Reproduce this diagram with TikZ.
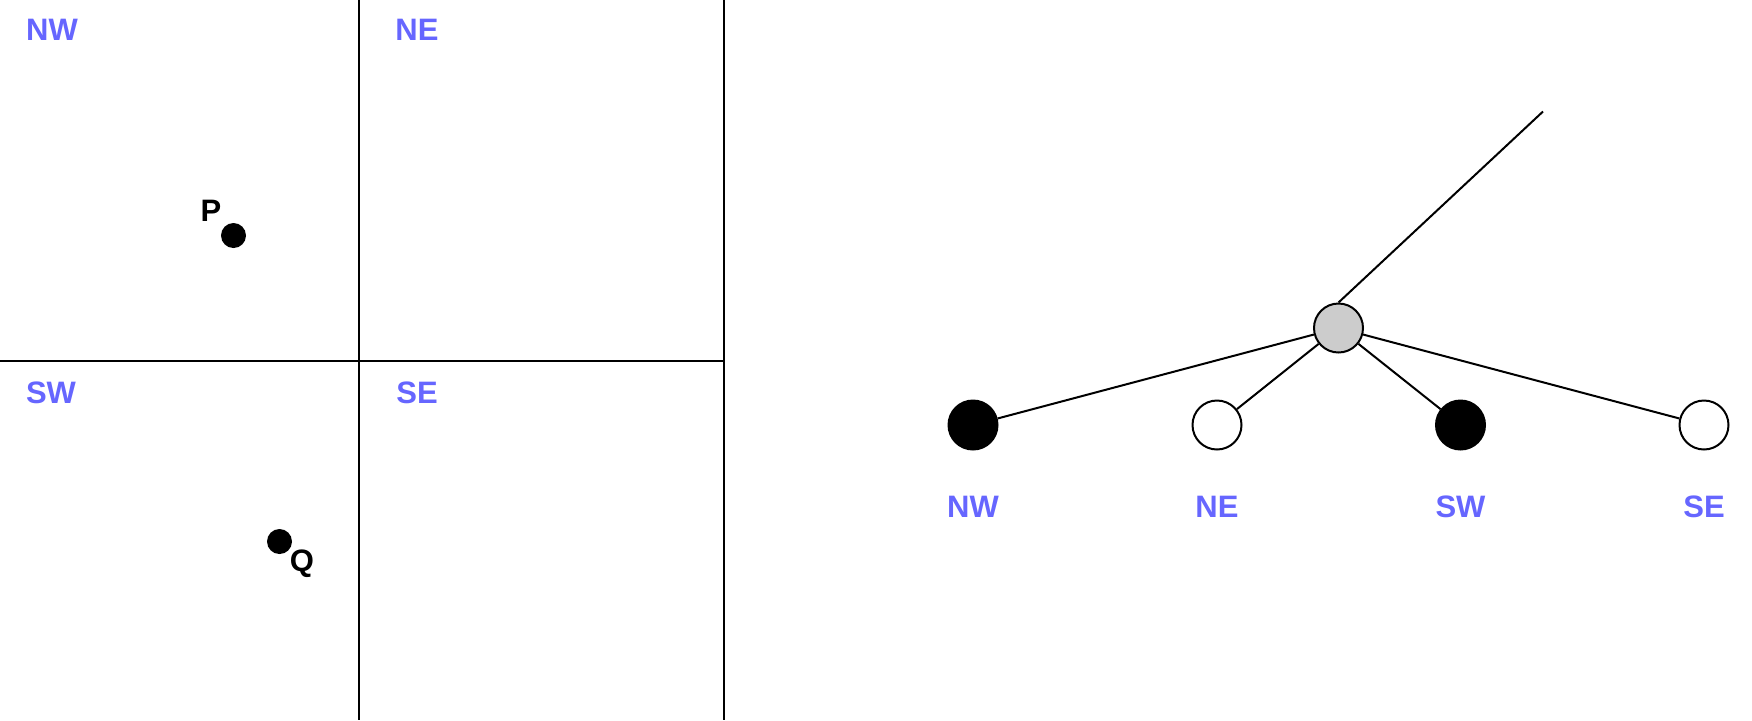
\documentclass[tikz,border=0pt]{standalone}
\usepackage{fontspec}
\setmainfont{Liberation Sans}
\definecolor{quadblue}{HTML}{6666FF}
\begin{document}
\begin{tikzpicture}[
  x=0.5pt, y=-0.5pt,
  quadlabel/.style={font=\fontsize{15.5}{18}\selectfont\bfseries, text=quadblue, inner sep=0pt},
  ptlabel/.style={font=\fontsize{15.5}{18}\selectfont\bfseries, inner sep=0pt},
  point/.style={circle, fill=black, minimum size=12.5pt, inner sep=0pt},
  treenode/.style={circle, draw, line width=1pt, minimum size=24.5pt, inner sep=0pt},
  line width=1pt
]
\useasboundingbox (0,0) rectangle (1752,720);

% Quadrant split
\draw (359,0) -- (359,720);
\draw (723.5,0) -- (723.5,720);
\draw (0,360.5) -- (723.5,360.5);

\node (q-nw) at (52,30) [quadlabel] {NW};
\node (q-ne) at (417,30) [quadlabel] {NE};
\node (q-sw) at (51,393) [quadlabel] {SW};
\node (q-se) at (417,393) [quadlabel] {SE};

% Points
\node (p) at (233.5,235.5) [point] {};
\node (p-label) at (211,211) [ptlabel] {P};
\node (q) at (279.5,541.5) [point] {};
\node (q-label) at (302,564) [ptlabel] {Q};

% Tree
\coordinate (parent) at (1543,111.5);
\node (root) at (1338.5,328) [treenode, fill=black!20] {};
\node (t-nw) at (973,425) [treenode, fill=black] {};
\node (t-ne) at (1217,425) [treenode, fill=white] {};
\node (t-sw) at (1460.5,425) [treenode, fill=black] {};
\node (t-se) at (1704,425) [treenode, fill=white] {};

\draw (root.north) -- (parent);
\draw (root) -- (t-nw);
\draw (root) -- (t-ne);
\draw (root) -- (t-sw);
\draw (root) -- (t-se);

\node (l-nw) at (973,506.5) [quadlabel] {NW};
\node (l-ne) at (1217,506.5) [quadlabel] {NE};
\node (l-sw) at (1460.5,506.5) [quadlabel] {SW};
\node (l-se) at (1704,506.5) [quadlabel] {SE};

\end{tikzpicture}
\end{document}
